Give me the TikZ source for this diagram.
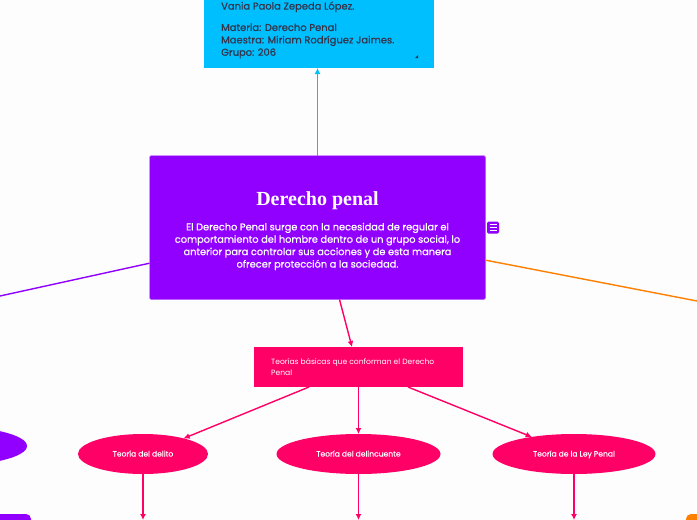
\documentclass[tikz,border=0pt]{standalone}
\usepackage{fontspec}
\setmainfont{Poppins}
\newfontfamily\heavyfont[FakeBold=0.6]{Poppins}
\newfontfamily\softfont[FakeBold=0.25]{Poppins}
\newfontfamily\titlefont{Liberation Serif}
\usepackage{tikz}
\usetikzlibrary{arrows.meta,shapes.geometric}
\definecolor{skyfill}{HTML}{00BFFF}
\definecolor{violetfill}{HTML}{9100FF}
\definecolor{pinkfill}{HTML}{FF0066}
\definecolor{orangefill}{HTML}{FF8000}
\definecolor{paper}{HTML}{FDFDFD}
\definecolor{inktext}{HTML}{34344A}
\tikzset{
		theorybox/.style={ellipse,fill=pinkfill,text=white,inner sep=0pt,outer sep=0pt,minimum height=40pt,text height=7pt,text depth=2pt,font=\softfont\fontsize{7.6}{10}\selectfont},
		linkarrow/.style={line width=1.4pt,-{Latex[length=6pt,width=6pt]}},
		pinkline/.style={linkarrow,pinkfill},
		}
\begin{document}
\begin{tikzpicture}[x=1pt,y=-1pt]
	\useasboundingbox (0,0) rectangle (697,520);
	\clip (0,0) rectangle (697,520);
	\fill[paper] (0,0) rectangle (697,520);
	%FREE ENDS
	\coordinate (leftend) at (0,296);
	\coordinate (rightend) at (697,301);
	\coordinate (delitoend) at (143,520);
	\coordinate (delincuenteend) at (358.5,520);
	\coordinate (leyend) at (574,520);
	%NODES for the top
	\node[fill=skyfill,minimum width=230pt,minimum height=120pt,inner sep=0pt,outer sep=0pt] (datos) at (319,8) {};
	\node[anchor=north west,inner sep=0pt,text=inktext,align=left,font=\heavyfont\fontsize{9.95}{12.4}\selectfont] (datostext) at (221,1.5) {Vania Paola Zepeda López.\\[9pt]Materia: Derecho Penal\\Maestra: Miriam Rodríguez Jaimes.\\Grupo: 206};
	\fill[inktext] (414.8,58.2) -- (418,58.2) -- (418,55) -- cycle;
	%NODES for the centre
	\node[fill=violetfill,draw=violetfill!55,line width=.4pt,rounded corners=1.5pt,minimum width=336pt,minimum height=144pt,inner sep=0pt,outer sep=0pt,text=white,align=center,font=\heavyfont\fontsize{9.8}{12.4}\selectfont] (penal) at (317.5,227.5) {\rule{0pt}{21pt}{\titlefont\bfseries\fontsize{20}{24}\selectfont Derecho penal}\\[12pt]El Derecho Penal surge con la necesidad de regular el\\comportamiento del hombre dentro de un grupo social, lo\\anterior para controlar sus acciones y de esta manera\\ofrecer protección a la sociedad.};
	\node[fill=violetfill,rounded corners=1.5pt,minimum size=12pt,inner sep=0pt] (nota) at (493,227.5) {};
	\draw[white,line width=.9pt] (489.5,224.8) -- (496.5,224.8) (489.5,227.5) -- (496.5,227.5) (489.5,230.2) -- (496.5,230.2);
	%NODES for the theories
	\node[fill=pinkfill,minimum width=209pt,minimum height=40pt,inner sep=0pt,outer sep=0pt] (basicas) at (358.5,367) {};
	\node[anchor=west,inner sep=0pt,text=white,align=left,font=\fontsize{7.6}{11}\selectfont] (basicastext) at (271,367) {Teorías básicas que conforman el Derecho\\Penal};
	\node[theorybox,minimum width=130pt] (delito) at (143,454) {Teoría del delito};
	\node[theorybox,minimum width=164pt] (delincuente) at (358.5,454) {Teoría del delincuente};
	\node[theorybox,minimum width=163pt] (ley) at (574,454) {Teoría de la Ley Penal};
	%NODES cut by the page
	\node[ellipse,fill=violetfill,minimum width=164pt,minimum height=40pt,inner sep=0pt] (ramaizq) at (-55,446) {};
	\node[fill=violetfill,rounded corners=5pt,minimum width=100pt,minimum height=40pt,inner sep=0pt] (cajaizq) at (-19,534) {};
	\node[fill=orangefill,rounded corners=5pt,minimum width=100pt,minimum height=40pt,inner sep=0pt] (cajader) at (736,534) {};
	%PATHS
	\draw[linkarrow,skyfill] (penal.north) -- (penal.north |- datos.south);
	\draw[violetfill,line width=1.4pt] (penal.192.7) -- (leftend);
	\draw[orangefill,line width=1.4pt] (penal.-11.4) -- (rightend);
	\draw[pinkline] (penal.-73.4) -- (basicas.108);
	\draw[pinkline] (basicas.202.4) -- (delito.21.8);
	\draw[pinkline] (basicas.south) -- (delincuente.north);
	\draw[pinkline] (basicas.-22) -- (ley.158.7);
	\draw[pinkline] (delito.south) -- (delitoend);
	\draw[pinkline] (delincuente.south) -- (delincuenteend);
	\draw[pinkline] (ley.south) -- (leyend);
\end{tikzpicture}
\end{document}
